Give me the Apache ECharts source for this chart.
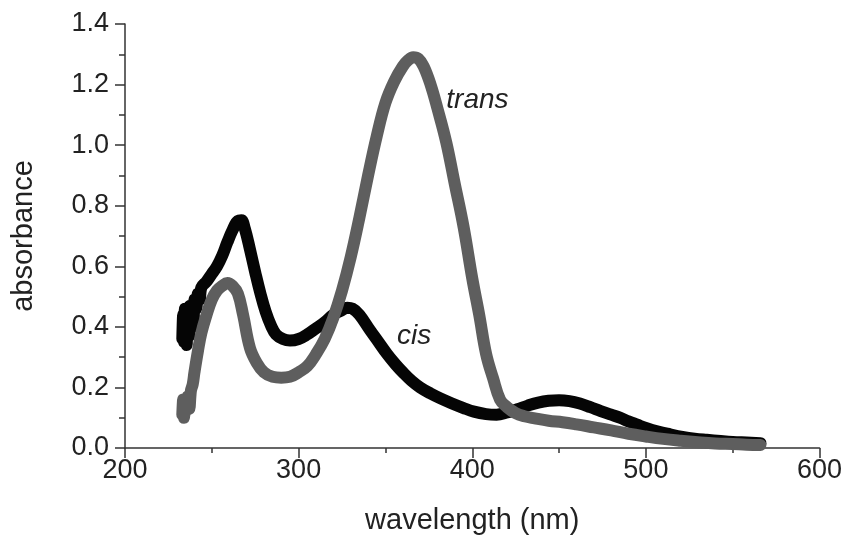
<!DOCTYPE html>
<html>
<head>
<meta charset="utf-8">
<script src="https://cdn.jsdelivr.net/npm/echarts@6/dist/echarts.min.js"></script>
<style>html,body{margin:0;padding:0;background:#fff;}#c{width:848px;height:543px;}</style>
</head>
<body>
<div id="c"></div>
<script>
const xTicks = [200, 300, 400, 500, 600];
const yTicks = [0.0, 0.2, 0.4, 0.6, 0.8, 1.0, 1.2, 1.4];

const cisWl = [233,233.5,234,234.5,235,235.5,236,237,237.5,238,239,239.5,240,241,242,243,244,247,250,253,256,259,262,265,267,269,272,275,278,281,284,287,291,295,300,305,310,315,320,325,328,331,335,341,346,351,356,360,365,370,376,382,388,395,401,408,414,420,426,432,438,444,450,456,462,468,474,480,485,490,495,500,507,514,521,528,535,543,550,558,566];
const cisAbs = [0.36,0.44,0.35,0.46,0.38,0.34,0.45,0.37,0.47,0.41,0.46,0.40,0.49,0.46,0.51,0.49,0.53,0.55,0.575,0.60,0.635,0.68,0.72,0.75,0.752,0.725,0.655,0.58,0.51,0.45,0.405,0.375,0.36,0.355,0.36,0.375,0.395,0.415,0.44,0.455,0.463,0.46,0.44,0.39,0.35,0.31,0.275,0.25,0.222,0.2,0.18,0.163,0.148,0.132,0.12,0.112,0.11,0.117,0.128,0.14,0.15,0.156,0.158,0.155,0.147,0.135,0.122,0.11,0.10,0.088,0.077,0.066,0.054,0.045,0.037,0.031,0.027,0.023,0.02,0.018,0.016];

const transWl = [233,233.5,234,234.5,235,236,237,238,239,240,242,244,247,250,253,256,259,262,265,268,272,276,280,285,290,295,300,305,310,315,320,325,330,335,340,345,350,355,360,363,366,369,372,376,380,385,390,395,400,404,408,412,416,420,425,430,436,444,452,460,470,480,490,500,510,520,530,540,550,558,566];
const transAbs = [0.11,0.16,0.10,0.15,0.12,0.17,0.13,0.19,0.21,0.25,0.32,0.38,0.44,0.49,0.52,0.535,0.545,0.535,0.51,0.44,0.33,0.28,0.25,0.235,0.232,0.235,0.25,0.27,0.31,0.36,0.43,0.52,0.63,0.76,0.90,1.03,1.14,1.21,1.26,1.28,1.29,1.285,1.26,1.2,1.12,1.01,0.87,0.73,0.56,0.44,0.31,0.23,0.16,0.135,0.115,0.105,0.098,0.09,0.085,0.078,0.068,0.058,0.047,0.038,0.03,0.024,0.019,0.015,0.013,0.011,0.01];

const cisLabelAt = [366.5, 0.37];
const transLabelAt = [403, 1.15];

const zip = (a, b) => a.map((v, i) => [v, b[i]]);
const FONT = 'Liberation Sans';

function labelPoint(text, coord) {
  return {
    symbol: 'circle', symbolSize: 1, silent: true,
    itemStyle: {color: 'rgba(0,0,0,0)'},
    data: [{coord: coord, value: text}],
    label: {show: true, position: 'inside', formatter: text, fontFamily: FONT, fontStyle: 'italic', fontSize: 28, color: '#222'}
  };
}

const chart = echarts.init(document.getElementById('c'), null, {renderer: 'canvas'});
chart.setOption({
  animation: false,
  backgroundColor: '#fff',
  grid: {left: 125, right: 28.5, top: 24, bottom: 95},
  xAxis: {
    type: 'value', min: xTicks[0], max: xTicks[xTicks.length - 1], interval: 100,
    name: 'wavelength (nm)', nameLocation: 'middle', nameGap: 58,
    nameTextStyle: {fontFamily: FONT, fontSize: 29, color: '#222'},
    axisLine: {show: true, onZero: false, lineStyle: {color: '#333', width: 1.5}},
    axisTick: {show: true, inside: false, length: 10, lineStyle: {color: '#333', width: 1.5}},
    minorTick: {show: true, splitNumber: 2, length: 5, lineStyle: {color: '#333', width: 1.5}},
    splitLine: {show: false},
    axisLabel: {fontFamily: FONT, fontSize: 27, color: '#222', margin: 9,
      formatter: v => xTicks.includes(v) ? String(v) : ''}
  },
  yAxis: {
    type: 'value', min: yTicks[0], max: yTicks[yTicks.length - 1], interval: 0.2,
    name: 'absorbance', nameLocation: 'middle', nameGap: 87,
    nameTextStyle: {fontFamily: FONT, fontSize: 29, color: '#222'},
    axisLine: {show: true, lineStyle: {color: '#333', width: 1.5}},
    axisTick: {show: true, inside: false, length: 10, lineStyle: {color: '#333', width: 1.5}},
    minorTick: {show: true, splitNumber: 2, length: 6, lineStyle: {color: '#333', width: 1.5}},
    splitLine: {show: false},
    axisLabel: {fontFamily: FONT, fontSize: 27, color: '#222', margin: 16,
      formatter: v => v.toFixed(1)}
  },
  series: [
    {
      name: 'cis', type: 'line', data: zip(cisWl, cisAbs),
      showSymbol: false, smooth: 0.4, clip: false,
      lineStyle: {color: '#050505', width: 12, cap: 'round', join: 'round'},
      itemStyle: {color: '#050505'},
      markPoint: labelPoint('cis', cisLabelAt)
    },
    {
      name: 'trans', type: 'line', data: zip(transWl, transAbs),
      showSymbol: false, smooth: 0.4, clip: false,
      lineStyle: {color: '#5e5e5e', width: 12, cap: 'round', join: 'round'},
      itemStyle: {color: '#5e5e5e'},
      markPoint: labelPoint('trans', transLabelAt)
    }
  ]
});
</script>
</body>
</html>
